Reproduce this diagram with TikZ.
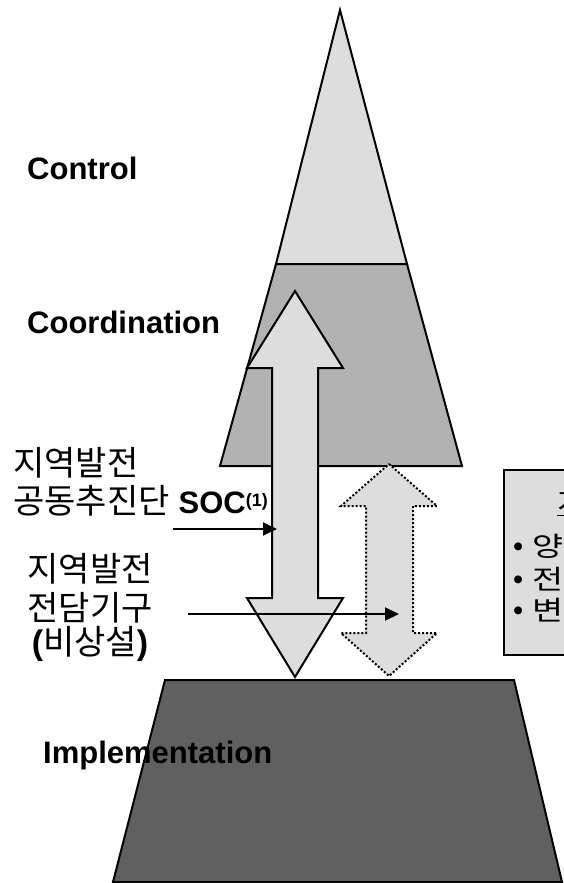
\documentclass[tikz,border=0pt]{standalone}
\usepackage{fontspec}
\setmainfont{Liberation Sans}
\newfontfamily\kr{Noto Sans CJK KR}
\newfontfamily\krwide[FakeStretch=1.25]{Noto Sans CJK KR}
\usetikzlibrary{arrows.meta}
\definecolor{lightg}{RGB}{221,221,221}
\definecolor{midg}{RGB}{178,178,178}
\definecolor{darkg}{RGB}{96,96,96}
\begin{document}
\begin{tikzpicture}[x=1pt,y=-1pt,
  layer/.style={draw=black,line width=2pt,line join=miter},
  bigarrow/.style={draw=black,fill=lightg,line width=2pt,line join=miter},
  dotarrow/.style={draw=black,fill=lightg,line width=2pt,dotted,line join=miter},
  lab/.style={font=\fontsize{31}{36}\selectfont\bfseries,anchor=base west,inner sep=0pt},
  krlab/.style={font=\kr\fontsize{34}{40}\selectfont,inner sep=0pt},
  boxtxt/.style={font=\krwide\fontsize{27}{30}\selectfont,inner sep=0pt,anchor=base west},
  pointer/.style={line width=2pt,-{Triangle[length=14pt,width=13pt]}},
]
\useasboundingbox (0,0) rectangle (564,883);
\begin{scope}
\clip (0,0) rectangle (564,883);
% Control
\path[layer,fill=lightg] (340,10) -- (407,264) -- (276,264) -- cycle;
% Coordination
\path[layer,fill=midg] (276,264) -- (407,264) -- (462,466) -- (220,466) -- cycle;
% dotted double arrow
\path[dotarrow] (389,464) -- (437,506) -- (413,506) -- (413,633) -- (437,633)
  -- (389,676) -- (341,633) -- (366,633) -- (366,506) -- (341,506) -- cycle;
% Implementation
\path[layer,fill=darkg] (165,680) -- (514,680) -- (562,882) -- (113,882) -- cycle;
% solid double arrow
\path[bigarrow] (295,291) -- (343,368) -- (318,368) -- (318,598) -- (343,598)
  -- (295,677) -- (247,598) -- (272,598) -- (272,368) -- (247,368) -- cycle;
% right box
\path[layer,fill=lightg] (504,470) rectangle (620,655);
\node[boxtxt] (btitle) at (557,512) {\underline{지}};
\node[boxtxt] (b1) at (513,556) {{\rmfamily\fontsize{29}{29}\selectfont\textbullet}\hspace{9pt}양};
\node[boxtxt] (b2) at (513,589) {{\rmfamily\fontsize{29}{29}\selectfont\textbullet}\hspace{9pt}전};
\node[boxtxt] (b3) at (513,620) {{\rmfamily\fontsize{29}{29}\selectfont\textbullet}\hspace{9pt}변};
\end{scope}
% labels
\node[lab] (ctrl) at (27,179) {Control};
\node[lab] (coord) at (27,333) {Coordination};
\node[lab] (impl) at (43,763) {Implementation};
% left Korean labels
\node[krlab,anchor=base west] (g1) at (13,475) {지역발전};
\node[krlab,anchor=base west] (g2) at (13,513) {공동추진단\hspace{9pt}{\rmfamily\bfseries\fontsize{31}{34}\selectfont SOC\raisebox{7pt}{\fontsize{18}{18}\selectfont(1)}}};
\node[krlab,anchor=base] (d1) at (90,581) {지역발전};
\node[krlab,anchor=base] (d2) at (90,620) {전담기구};
\node[krlab,anchor=base] (d3) at (90,654) {{\rmfamily\bfseries(}비상설{\rmfamily\bfseries)}};
% pointers
\coordinate (p1s) at (173,529);
\coordinate (p1e) at (277,529);
\coordinate (p2s) at (188,614);
\coordinate (p2e) at (399,614);
\draw[pointer] (p1s) -- (p1e);
\draw[pointer] (p2s) -- (p2e);
\end{tikzpicture}
\end{document}
